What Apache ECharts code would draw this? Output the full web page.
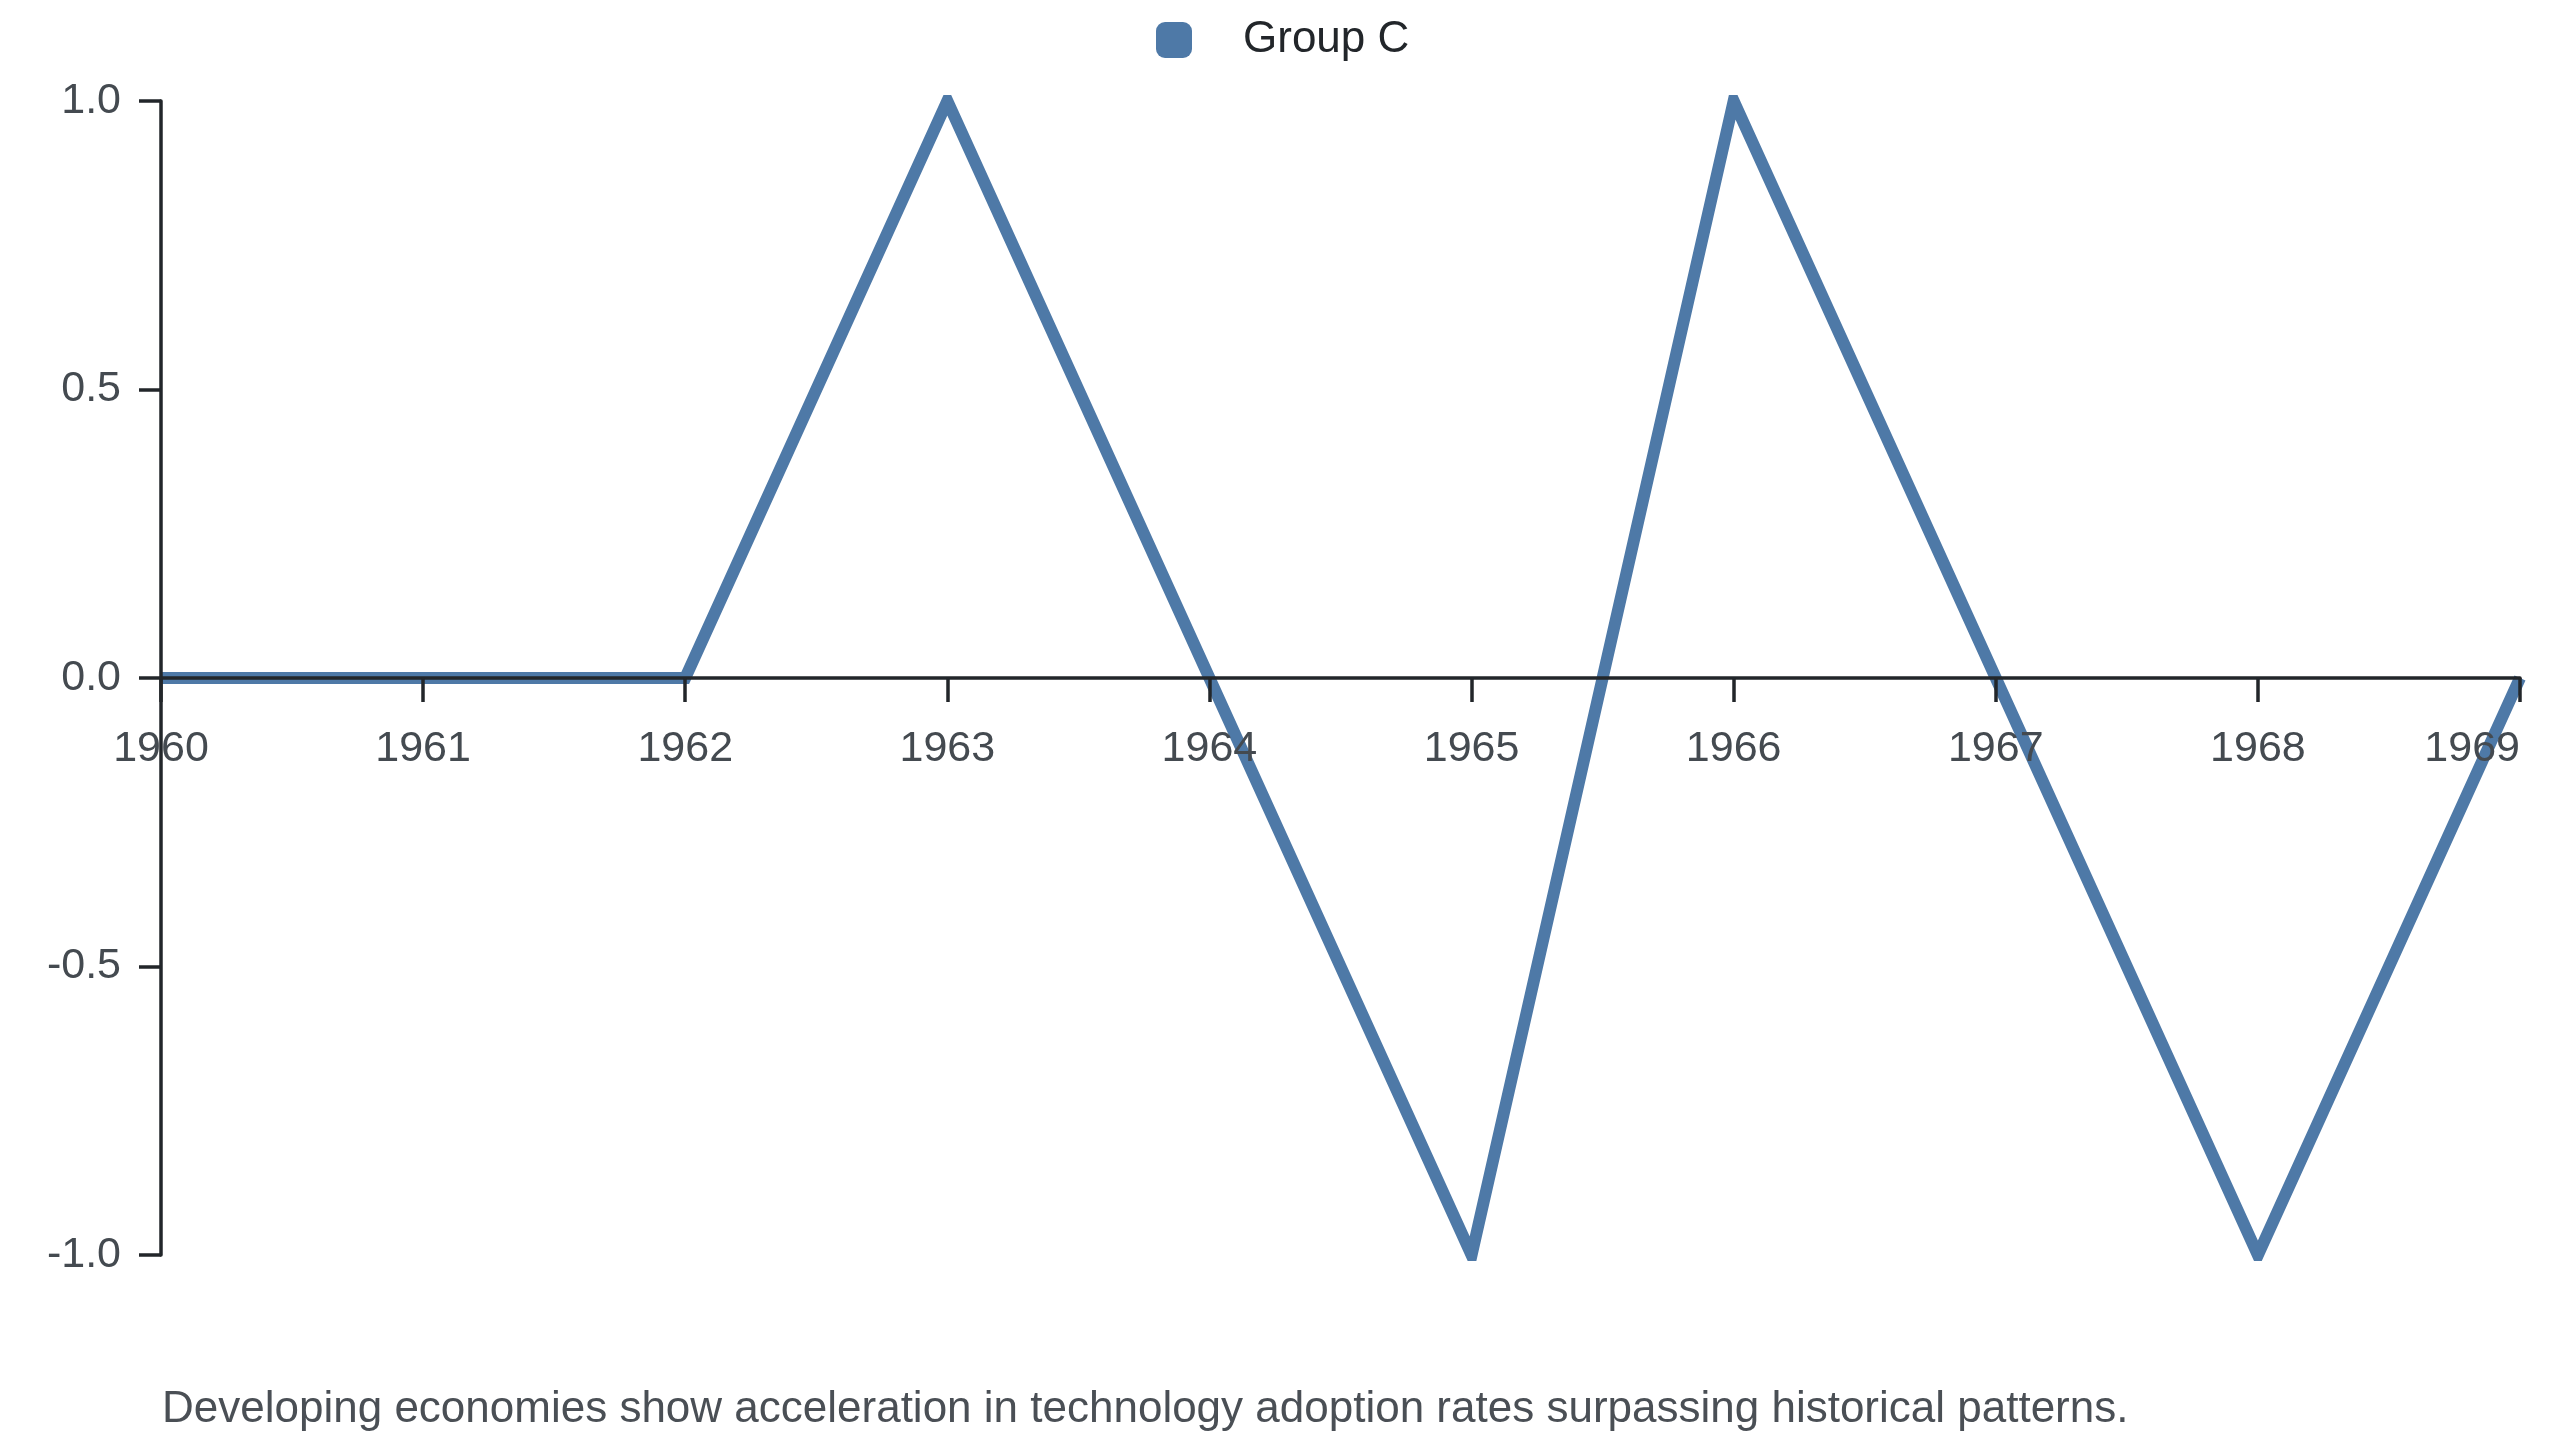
<!DOCTYPE html>
<html>
<head>
<meta charset="utf-8">
<script src="https://cdn.jsdelivr.net/npm/echarts@6/dist/echarts.min.js"></script>
<style>
  html, body { margin: 0; padding: 0; background: #fff; }
  #chart { width: 2560px; height: 1440px; }
</style>
</head>
<body>
<div id="chart"></div>
<script>
// data
const years = ['1960', '1961', '1962', '1963', '1964', '1965', '1966', '1967', '1968', '1969']
const groupC = [0, 0, 0, 1, 0, -1, 1, 0, -1, 0]
const yTicks = [-1, -0.5, 0, 0.5, 1]
const seriesName = 'Group C'
const caption = 'Developing economies show acceleration in technology adoption rates surpassing historical patterns.'

const font = '"Liberation Sans", Arial, sans-serif'
const axisColor = '#22262a'
const labelColor = '#444a50'

// grid box, the x axis sits on the zero line (half way down)
const gridTop = 101
const gridBottom = 185
const gridHeight = 1440 - gridTop - gridBottom

const chart = echarts.init(document.getElementById('chart'))

const option = {
  animation: false,
  backgroundColor: '#ffffff',
  title: {
    text: caption,
    left: 157,
    top: 1383,
    textStyle: { fontFamily: font, fontSize: 44, fontWeight: 'normal', color: '#4a4f55' }
  },
  legend: {
    data: [seriesName],
    left: 1151,
    top: 13,
    icon: 'roundRect',
    itemWidth: 36,
    itemHeight: 36,
    textStyle: { fontFamily: font, fontSize: 44, color: '#22262a', padding: [0, 0, 0, 46] }
  },
  grid: { left: 161, right: 40, top: gridTop, bottom: gridBottom, containLabel: false },
  xAxis: {
    type: 'category',
    data: years,
    boundaryGap: false,
    z: 5,
    offset: -gridHeight / 2,
    axisLine: { onZero: false, lineStyle: { color: axisColor, width: 3.5 } },
    axisTick: { show: true, length: 24, lineStyle: { color: axisColor, width: 3.5 } },
    axisLabel: {
      fontFamily: font, fontSize: 43, color: labelColor, margin: 50,
      interval: 0, alignMaxLabel: 'right'
    },
    splitLine: { show: false }
  },
  yAxis: {
    type: 'value',
    min: yTicks[0],
    max: yTicks[yTicks.length - 1],
    interval: 0.5,
    z: 5,
    axisLine: { show: true, lineStyle: { color: axisColor, width: 3.5 } },
    axisTick: { show: true, length: 22, lineStyle: { color: axisColor, width: 3.5 } },
    axisLabel: {
      fontFamily: font, fontSize: 43, color: labelColor, margin: 40,
      formatter: v => v.toFixed(1)
    },
    splitLine: { show: false }
  },
  series: [{
    name: seriesName,
    type: 'line',
    data: groupC,
    showSymbol: false,
    symbol: 'none',
    color: '#4e79a7',
    lineStyle: { width: 12, color: '#4e79a7', join: 'miter' }
  }]
}

chart.setOption(option)
</script>
</body>
</html>
